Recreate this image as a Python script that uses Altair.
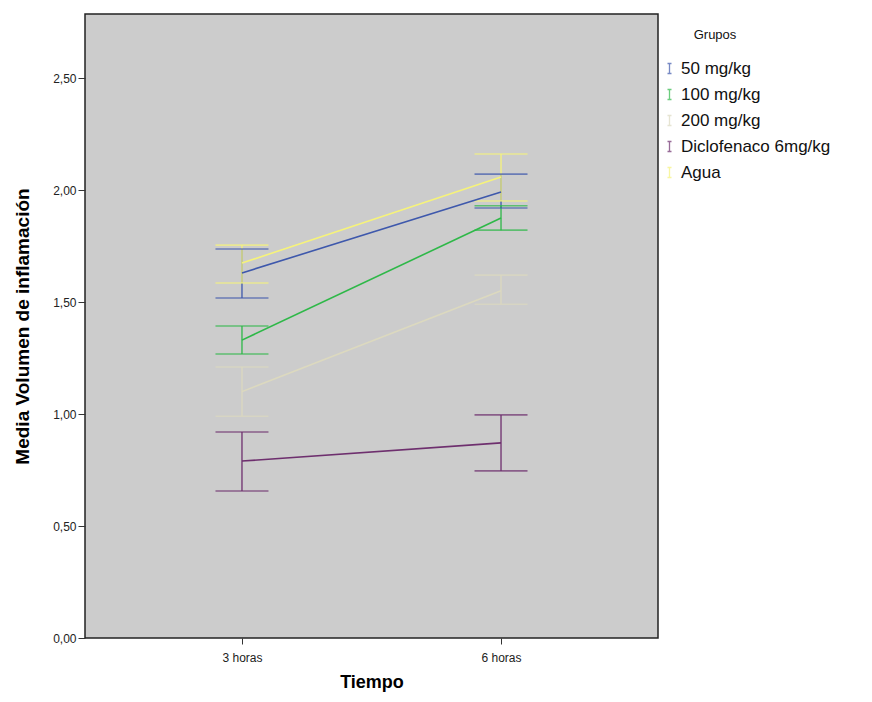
import altair as alt
import pandas as pd

groups = ["50 mg/kg", "100 mg/kg", "200 mg/kg", "Diclofenaco 6mg/kg", "Agua"]
colors = ["#3e58ac", "#2eb848", "#dcd9bf", "#6e2f6e", "#f6f37a"]
times = ["3 horas", "6 horas"]
legend_title = ["Grupos"]
means = {
    "50 mg/kg": [1.63, 1.991],
    "100 mg/kg": [1.33, 1.875],
    "200 mg/kg": [1.10, 1.55],
    "Diclofenaco 6mg/kg": [0.79, 0.871],
    "Agua": [1.674, 2.058],
}
lowers = {
    "50 mg/kg": [1.518, 1.92],
    "100 mg/kg": [1.268, 1.821],
    "200 mg/kg": [0.99, 1.49],
    "Diclofenaco 6mg/kg": [0.656, 0.746],
    "Agua": [1.585, 1.951],
}
uppers = {
    "50 mg/kg": [1.737, 2.071],
    "100 mg/kg": [1.393, 1.93],
    "200 mg/kg": [1.21, 1.62],
    "Diclofenaco 6mg/kg": [0.92, 0.996],
    "Agua": [1.754, 2.161],
}

rows = []
for g in groups:
    for i, t in enumerate(times):
        rows.append({"Grupos": g, "Tiempo": t, "mean": means[g][i],
                     "lo": lowers[g][i], "hi": uppers[g][i]})
df = pd.DataFrame(rows)

xenc = alt.X("Tiempo:N", sort=times,
             scale=alt.Scale(type="point", padding=0.606),
             axis=alt.Axis(title="Tiempo", labelAngle=0, labelFontSize=12,
                           labelColor="#222", tickSize=6, tickColor="#333",
                           domain=False, titleFontSize=18, titleFontWeight="bold",
                           titlePadding=10, labelPadding=8))
yscale = alt.Scale(domain=[0, 2.786], nice=False, zero=True)
yaxis = alt.Axis(title="Media Volumen de inflamación", values=[0, 0.5, 1, 1.5, 2, 2.5],
                 labelExpr="replace(format(datum.value, '.2f'), '.', ',')",
                 labelFontSize=12, labelColor="#222", tickSize=7, tickColor="#333",
                 domain=False, grid=False, titleFontSize=19, titleFontWeight="bold",
                 titlePadding=20, labelPadding=2)
color = alt.Color("Grupos:N", sort=groups,
                  scale=alt.Scale(domain=groups, range=colors),
                  legend=alt.Legend(title=None, orient="none", legendX=576, legendY=46,
                                    symbolType="M-0.4,-1H0.4M0,-1V1M-0.4,1H0.4",
                                    symbolSize=100, symbolStrokeWidth=1.3,
                                    labelFontSize=17, labelColor="#111",
                                    rowPadding=8, labelOffset=3))

base = alt.Chart(df)

rules = base.mark_rule(strokeWidth=1.3).encode(
    x=xenc, y=alt.Y("lo:Q", scale=yscale, axis=yaxis), y2="hi:Q", color=color)
caps_lo = base.mark_tick(orient="horizontal", size=53, thickness=1.6).encode(
    x=xenc, y=alt.Y("lo:Q", scale=yscale), color=color)
caps_hi = base.mark_tick(orient="horizontal", size=53, thickness=1.6).encode(
    x=xenc, y=alt.Y("hi:Q", scale=yscale), color=color)
lines = base.mark_line(strokeWidth=1.6).encode(
    x=xenc, y=alt.Y("mean:Q", scale=yscale), color=color, detail="Grupos:N")

title_txt = alt.Chart(pd.DataFrame({"t": legend_title})).mark_text(
    fontSize=13, color="#111", align="center", baseline="middle").encode(
    x=alt.value(630), y=alt.value(21), text="t:N")

chart = alt.layer(rules, caps_lo, caps_hi, lines, title_txt).properties(
    width=573, height=624,
    autosize=alt.AutoSizeParams(type="none"),
    padding={"left": 77, "top": 6, "right": 198, "bottom": 62},
    background="white",
).configure(font="Liberation Sans").configure_view(
    fill="#cccccc", stroke="#222", strokeWidth=1.5)

chart.save("out.html", embed_options={"renderer": "svg", "actions": False})
